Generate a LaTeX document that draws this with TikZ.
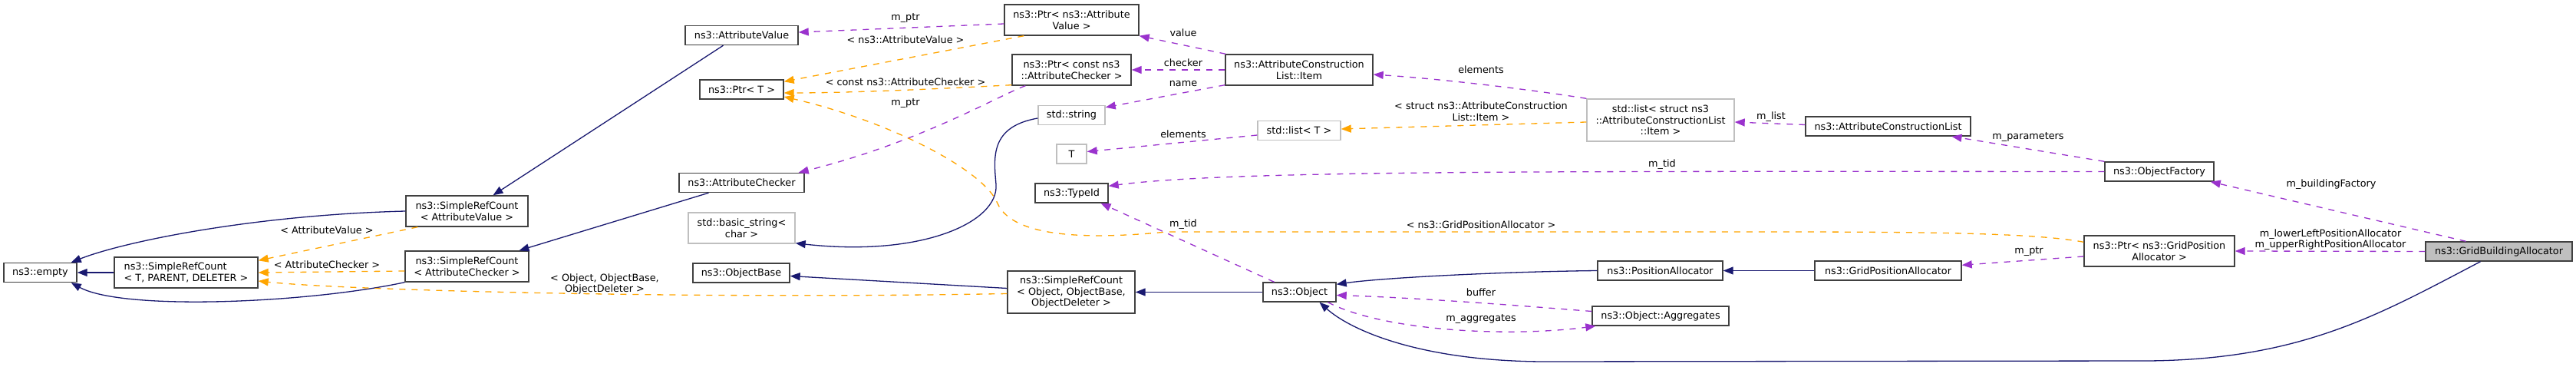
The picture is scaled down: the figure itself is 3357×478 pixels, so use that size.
\documentclass[tikz,border=0pt]{standalone}
\usepackage{fontspec}
\setmainfont{DejaVu Sans}
\usetikzlibrary{arrows.meta}

\definecolor{inhblue}{HTML}{191970}
\definecolor{usepurple}{HTML}{9A32CD}
\definecolor{tplorange}{HTML}{FFA500}
\definecolor{boxgray}{HTML}{404040}
\definecolor{extgray}{HTML}{BFBFBF}

\begin{document}
\begin{tikzpicture}[
  x=1pt, y=-1pt,
  every node/.style={font=\fontsize{12.8}{14.7}\selectfont, inner sep=0pt},
  box/.style={draw=boxgray, line width=1.4pt, fill=white, align=center, minimum height=25pt},
  gbox/.style={box, draw=extgray},
  lbl/.style={align=center, text=black},
  tip/.style={-{Triangle[length=13pt, width=10pt]}, line width=1.3pt},
  inherit/.style={tip, inhblue},
  member/.style={tip, usepurple, dash pattern=on 8pt off 8pt},
  templ/.style={tip, tplorange, dash pattern=on 8pt off 8pt}
]
\fill[white] (0,0) rectangle (3357,478);
\useasboundingbox (0,0) rectangle (3357,478);

\node[box, minimum width=95pt] (empty) at (52.5,355) {ns3::empty};
\node[box, minimum width=187pt, minimum height=40pt, align=left] (srcTPD) at (242.5,355) {ns3::SimpleRefCount\\< T, PARENT, DELETER >};
\node[box, minimum width=159pt, minimum height=40pt] (srcValue) at (608.5,275) {ns3::SimpleRefCount\\< AttributeValue >};
\node[box, minimum width=161pt, minimum height=40pt] (srcChecker) at (608.5,347) {ns3::SimpleRefCount\\< AttributeChecker >};
\node[box, minimum width=147pt] (attrValue) at (966.5,46) {ns3::AttributeValue};
\node[box, minimum width=109pt] (ptrT) at (966.5,116.5) {ns3::Ptr< T >};
\node[box, minimum width=163pt] (attrChecker) at (966.5,238) {ns3::AttributeChecker};
\node[gbox, minimum width=139pt, minimum height=40pt] (basicString) at (966.5,297) {std::basic\_string<\\char >};
\node[box, minimum width=126pt] (objectBase) at (966,355.5) {ns3::ObjectBase};
\node[box, minimum width=175pt, minimum height=40pt] (ptrValue) at (1396.5,26) {ns3::Ptr< ns3::Attribute\\Value >};
\node[box, minimum width=155pt, minimum height=40pt] (ptrChecker) at (1396.5,91) {ns3::Ptr< const ns3\\::AttributeChecker >};
\node[gbox, minimum width=87pt] (stdString) at (1396.5,150) {std::string};
\node[gbox, minimum width=39pt] (tParam) at (1396.5,200.5) {T};
\node[box, minimum width=95pt] (typeId) at (1396.5,251.5) {ns3::TypeId};
\node[box, minimum width=166pt, minimum height=55pt] (srcObject) at (1396,380.5) {ns3::SimpleRefCount\\< Object, ObjectBase,\\ObjectDeleter >};
\node[box, minimum width=192pt, minimum height=40pt] (item) at (1693,91) {ns3::AttributeConstruction\\List::Item};
\node[gbox, minimum width=108pt] (listT) at (1693,170) {std::list< T >};
\node[box, minimum width=95pt] (object) at (1693.5,380.5) {ns3::Object};
\node[gbox, minimum width=192pt, minimum height=55pt] (listItem) at (2164,156.5) {std::list< struct ns3\\::AttributeConstructionList\\::Item >};
\node[box, minimum width=215pt] (acl) at (2460.5,164.5) {ns3::AttributeConstructionList};
\node[box, minimum width=163pt] (posAlloc) at (2163.5,352.5) {ns3::PositionAllocator};
\node[box, minimum width=178pt] (aggregates) at (2164,411.5) {ns3::Object::Aggregates};
\node[box, minimum width=191pt] (gridPos) at (2460.5,352.5) {ns3::GridPositionAllocator};
\node[box, minimum width=142pt] (factory) at (2814,223.5) {ns3::ObjectFactory};
\node[box, minimum width=196pt, minimum height=40pt] (ptrGrid) at (2814,327) {ns3::Ptr< ns3::GridPosition\\Allocator >};
\node[box, fill=extgray, minimum width=191pt] (gba) at (3256.5,327.5) {ns3::GridBuildingAllocator};

\draw[inherit] (srcTPD.west) -- (empty.east);
\draw[inherit] (srcValue.west) .. controls (330,280) and (160,315) .. ([xshift=-8pt]empty.north east);
\draw[inherit] (srcChecker.south west) .. controls (400,395) and (160,405) .. ([xshift=-8pt]empty.south east);
\draw[templ] ([xshift=16pt]srcValue.south west) -- ([yshift=-5pt]srcTPD.north east) node[lbl] at (426,300) {< AttributeValue >};
\draw[templ] ([yshift=-6pt]srcChecker.west) -- (srcTPD.east) node[lbl] at (426,345) {< AttributeChecker >};
\draw[templ] ([yshift=-2pt]srcObject.west) .. controls (900,390) and (450,378) .. ([yshift=-11pt]srcTPD.east) node[lbl] at (788,370) {< Object, ObjectBase,\\ObjectDeleter >};
\draw[inherit] ([xshift=-24pt]attrValue.south) -- ([xshift=34pt]srcValue.north);
\draw[inherit] ([xshift=-43pt]attrChecker.south) -- ([xshift=68pt]srcChecker.north);
\draw[inherit] ([yshift=-4pt]stdString.west) .. controls (1290,165) and (1295,205) .. (1298,240) .. controls (1302,290) and (1200,335) .. ([yshift=1pt]basicString.south east);
\draw[inherit] ([yshift=5pt]srcObject.west) -- ([yshift=-4pt]objectBase.east);
\draw[inherit] (object.west) -- (srcObject.east);
\draw[inherit] (posAlloc.west) .. controls (1950,354) and (1800,362) .. ([yshift=-3pt]object.north east);
\draw[inherit] (gridPos.west) -- (posAlloc.east);
\draw[inherit] ([xshift=-24pt]gba.south) .. controls (3100,410) and (3000,468) .. (2800,470) -- (2010,471) .. controls (1850,470) and (1760,430) .. ([xshift=26pt]object.south);
\draw[member] ([yshift=6pt]aggregates.west) .. controls (1980,398) and (1850,388) .. ([yshift=-4pt]object.east) node[lbl] at (1930,381) {buffer};
\draw[member] ([xshift=37pt]object.south) .. controls (1800,430) and (1960,440) .. ([xshift=5pt]aggregates.south west) node[lbl] at (1930,416) {m\_aggregates};
\draw[member] ([xshift=-33pt]object.north) -- ([xshift=38pt]typeId.south) node[lbl] at (1542,292) {m\_tid};
\draw[member] (factory.west) .. controls (2000,223) and (1600,222) .. ([yshift=-4pt]typeId.north east) node[lbl] at (2166,214) {m\_tid};
\draw[member] (factory.north west) -- ([xshift=83pt]acl.south) node[lbl] at (2643,179) {m\_parameters};
\draw[member] ([yshift=2pt]acl.west) -- ([yshift=-2.5pt]listItem.east) node[lbl] at (2308,152) {m\_list};
\draw[member] (listItem.north west) .. controls (1990,116) and (1880,103) .. ([yshift=-6pt]item.east) node[lbl] at (1930,91) {elements};
\draw[templ] ([yshift=-2.5pt]listItem.west) -- ([yshift=2pt]listT.east) node[lbl] at (1930,145) {< struct ns3::AttributeConstruction\\List::Item >};
\draw[member] ([yshift=-6pt]listT.west) -- ([yshift=3pt]tParam.east) node[lbl] at (1542,175) {elements};
\draw[member] ([xshift=1pt]item.north west) -- (ptrValue.south east) node[lbl] at (1542,43) {value};
\draw[member] (item.west) -- (ptrChecker.east) node[lbl] at (1542,82) {checker};
\draw[member] ([yshift=1pt]item.south west) -- ([yshift=-3pt]stdString.north east) node[lbl] at (1542,109) {name};
\draw[member] ([yshift=-5pt]ptrValue.west) -- ([yshift=4pt]attrValue.east) node[lbl] at (1180,24) {m\_ptr};
\draw[templ] ([xshift=26pt]ptrValue.south west) -- ([yshift=-3pt]ptrT.north east) node[lbl] at (1180,52) {< ns3::AttributeValue >};
\draw[templ] ([yshift=1pt]ptrChecker.south west) .. controls (1200,117) and (1100,121) .. ([yshift=-4.5pt]ptrT.east) node[lbl] at (1180,107) {< const ns3::AttributeChecker >};
\draw[member] ([xshift=18pt]ptrChecker.south west) .. controls (1300,125) and (1200,185) .. ([xshift=-8pt]attrChecker.north east) node[lbl] at (1180,135) {m\_ptr};
\draw[templ] ([yshift=-9pt]ptrGrid.north west) .. controls (2650,303) and (2500,302) .. (2300,302) -- (1520,302) .. controls (1420,312) and (1320,310) .. (1300,265) .. controls (1283,222) and (1160,158) .. ([yshift=-9.5pt]ptrT.east) node[lbl] at (1930,293) {< ns3::GridPositionAllocator >};
\draw[member] ([yshift=-7pt]ptrGrid.west) -- ([yshift=-6pt]gridPos.north east) node[lbl] at (2644,328) {m\_ptr};
\draw[member] ([xshift=-43pt]gba.north) -- ([xshift=-5pt]factory.south east) node[lbl] at (3038,240) {m\_buildingFactory};
\draw[member] (gba.west) -- (ptrGrid.east) node[lbl] at (3037,312) {m\_lowerLeftPositionAllocator\\m\_upperRightPositionAllocator};
\end{tikzpicture}
\end{document}
